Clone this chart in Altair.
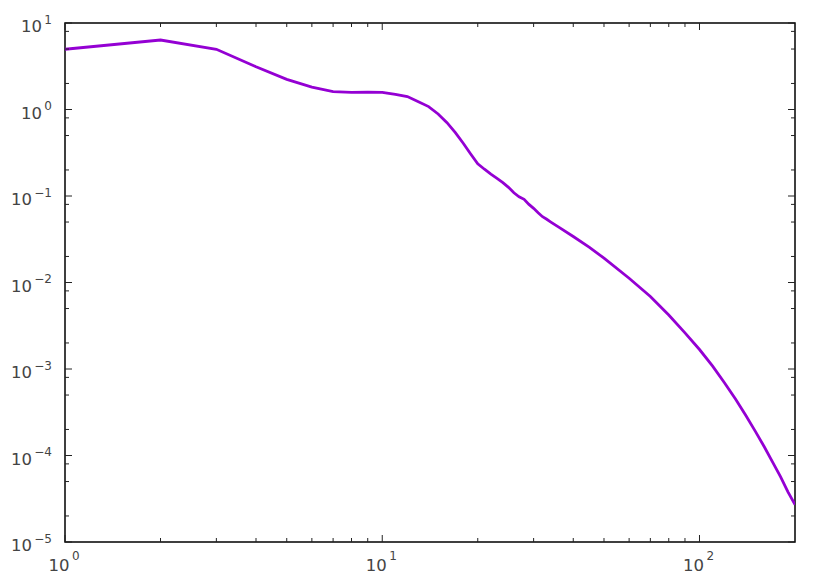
import altair as alt
import pandas as pd

# ---- data ----
x_vals = [1, 2, 3, 4, 5, 6, 7, 8, 9, 10, 11, 12, 13, 14, 15, 16, 17, 18, 19, 20,
          21, 22, 23, 24, 25, 26, 27, 28, 29, 30, 31, 32, 33, 34, 36, 40, 45, 50,
          60, 70, 80, 90, 100, 110, 120, 130, 140, 150, 160, 170, 180, 190, 200]
y_vals = [4.97, 6.36, 4.97, 3.12, 2.23, 1.81, 1.61, 1.58, 1.59, 1.58, 1.50, 1.41,
          1.23, 1.08, 0.887, 0.704, 0.539, 0.407, 0.306, 0.236, 0.204, 0.179,
          0.160, 0.143, 0.126, 0.109, 0.098, 0.0916, 0.080, 0.072, 0.064, 0.0576,
          0.0538, 0.050, 0.0437, 0.0340, 0.0255, 0.0191, 0.0112, 0.0069, 0.0042,
          0.00262, 0.00168, 0.00108, 6.9e-4, 4.47e-4, 2.9e-4, 1.9e-4, 1.26e-4,
          8.4e-5, 5.7e-5, 3.8e-5, 2.7e-5]

# tick positions
x_major = [1, 10, 100]
x_minor = [2, 3, 4, 5, 6, 7, 8, 9, 20, 30, 40, 50, 60, 70, 80, 90]
y_major = [1e-5, 1e-4, 1e-3, 1e-2, 1e-1, 1, 10]
y_minor = [m * 10.0 ** e for e in range(-5, 1) for m in (2, 5, 8)]

# tick labels (base "10" + exponent)
x_label_exp = ["0", "1", "2"]
y_pos_vals = [1, 10]
y_pos_exp = ["0", "1"]
y_neg_vals = [1e-5, 1e-4, 1e-3, 1e-2, 1e-1]
y_neg_exp = ["−5", "−4", "−3", "−2", "−1"]

W, H = 730, 519
LINE_COLOR = "#9400D3"
TICK_COLOR = "#222222"
LABEL_COLOR = "#444444"
FONT = "DejaVu Sans"
BASE_SIZE = 16.5
EXP_SIZE = 12

xscale = alt.Scale(type="log", domain=[1, 200], nice=False)
yscale = alt.Scale(type="log", domain=[1e-5, 10], nice=False)


def X(field):
    return alt.X(f"{field}:Q", scale=xscale, axis=None)


def Y(field):
    return alt.Y(f"{field}:Q", scale=yscale, axis=None)


df = pd.DataFrame({"x": x_vals, "y": y_vals})

line = alt.Chart(df).mark_line(color=LINE_COLOR, strokeWidth=2.8, clip=True).encode(
    x=X("x"), y=Y("y"))


def xticks(vals, length, top):
    d = pd.DataFrame({"x": vals})
    y0, y1 = (0, length) if top else (H, H - length)
    return alt.Chart(d).mark_rule(color=TICK_COLOR, strokeWidth=1).encode(
        x=X("x"), y=alt.value(y0), y2=alt.value(y1))


def yticks(vals, length, right):
    d = pd.DataFrame({"y": vals})
    x0, x1 = (W, W - length) if right else (0, length)
    return alt.Chart(d).mark_rule(color=TICK_COLOR, strokeWidth=1).encode(
        y=Y("y"), x=alt.value(x0), x2=alt.value(x1))


# x-axis labels
xl = pd.DataFrame({"x": x_major, "e": x_label_exp})
x_base = alt.Chart(xl).mark_text(
    font=FONT, fontSize=BASE_SIZE, color=LABEL_COLOR, align="right",
    baseline="alphabetic", dx=4.5).encode(
    x=X("x"), y=alt.value(H + 29), text=alt.value("10"))
x_exp = alt.Chart(xl).mark_text(
    font=FONT, fontSize=EXP_SIZE, color=LABEL_COLOR, align="left",
    baseline="alphabetic", dx=7).encode(
    x=X("x"), y=alt.value(H + 18), text="e:N")


# y-axis labels
def ylabels(vals, exps, base_dx):
    d = pd.DataFrame({"y": vals, "e": exps})
    base = alt.Chart(d).mark_text(
        font=FONT, fontSize=BASE_SIZE, color=LABEL_COLOR, align="right",
        baseline="alphabetic", dx=base_dx, dy=9).encode(
        y=Y("y"), x=alt.value(0), text=alt.value("10"))
    exp = alt.Chart(d).mark_text(
        font=FONT, fontSize=EXP_SIZE, color=LABEL_COLOR, align="right",
        baseline="alphabetic", dx=-13, dy=0.5).encode(
        y=Y("y"), x=alt.value(0), text="e:N")
    return [base, exp]


layers = [
    line,
    xticks(x_major, 7, False), xticks(x_minor, 4, False),
    xticks(x_major, 7, True), xticks(x_minor, 4, True),
    yticks(y_major, 7, False), yticks(y_minor, 4, False),
    yticks(y_major, 7, True), yticks(y_minor, 4, True),
    x_base, x_exp,
    *ylabels(y_pos_vals, y_pos_exp, -23),
    *ylabels(y_neg_vals, y_neg_exp, -33),
]

chart = alt.layer(*layers).properties(
    width=W, height=H,
    autosize=alt.AutoSizeParams(type="none"),
    padding={"left": 57, "top": 15, "right": 27, "bottom": 36},
).configure_view(
    stroke="black", strokeWidth=1.5
)

chart.save("out.html", embed_options={"renderer": "svg", "actions": False})
